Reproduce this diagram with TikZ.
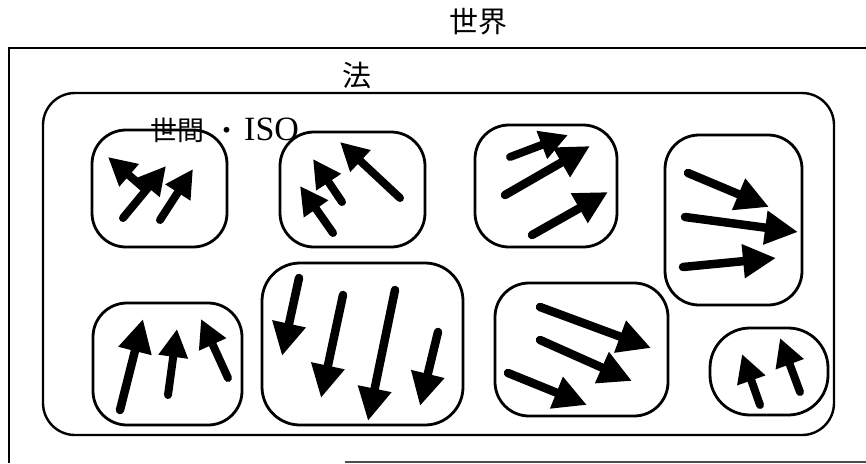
\documentclass[tikz,border=0pt]{standalone}
\usepackage{fontspec}
\setmainfont{Liberation Serif}
\newfontfamily\cjk{Noto Sans CJK JP}
\usetikzlibrary{arrows.meta}
\begin{document}
\begin{tikzpicture}[x=1pt,y=-1pt,
  frame/.style={draw, line width=2pt},
  lawbox/.style={draw, line width=2.4pt, rounded corners=32pt},
  grp/.style={draw, line width=2.8pt, rounded corners=#1},
  vec/.style={line width=8.5pt, line cap=round, -{Triangle[length=33pt 0 0,width=32pt 0 0]}},
  svec/.style={line width=8pt, line cap=round, -{Triangle[length=28pt 0 0,width=28pt 0 0]}},
  big/.style={font=\cjk\fontsize{29}{29}\selectfont}
]
\useasboundingbox (0,0) rectangle (866,463);
% outer frame
\draw[frame] (9,463) -- (9,48) -- (866,48);
\draw[line width=1.6pt, black!70] (345,462) -- (866,462);
\node[big] (world) at (478,22) {世界};
% law box
\draw[lawbox] (43,93) rectangle (834,435);
\node[big] (law) at (357,76) {法};
% groups
\draw[grp=34pt] (92,130) rectangle (227,247);
\draw[grp=34pt] (280,132) rectangle (425,247);
\draw[grp=34pt] (475,125) rectangle (617,247);
\draw[grp=34pt] (665,135) rectangle (802,305);
\draw[grp=34pt] (93,303) rectangle (242,425);
\draw[grp=38pt] (262,263) rectangle (463,425);
\draw[grp=34pt] (495,283) rectangle (668,416);
\draw[grp=40pt] (710,328) rectangle (828,415);
\node[anchor=base west, inner sep=0pt] (iso) at (150,140)
  {\cjk\fontsize{27}{27}\selectfont 世間\hspace{9pt}・\hspace{4pt}\fontsize{34}{34}\selectfont\rmfamily ISO};
% box 1
\draw[svec] (146,190) -- (108,157);
\draw[svec] (123,218) -- (166,166);
\draw[svec] (160,220) -- (193,169);
% box 2
\draw[svec] (400,198) -- (340,142);
\draw[svec] (342,202) -- (313,159);
\draw[svec] (333,233) -- (300,186);
% box 3
\draw[svec] (510,157) -- (568,135);
\draw[vec] (505,195) -- (590,146);
\draw[vec] (532,235) -- (608,192);
% box 4
\draw[vec] (688,173) -- (769,207);
\draw[vec] (685,217) -- (798,232);
\draw[vec] (683,267) -- (776,258);
% box 5
\draw[vec] (120,410) -- (143,319);
\draw[svec] (168,395) -- (177,329);
\draw[svec] (228,378) -- (201,319);
% box 6
\draw[vec] (299,278) -- (282,356);
\draw[vec] (343,295) -- (321,398);
\draw[vec] (395,290) -- (368,421);
\draw[vec] (438,332) -- (420,406);
% box 7
\draw[vec] (540,307) -- (651,348);
\draw[vec] (540,340) -- (632,381);
\draw[vec] (508,373) -- (587,405);
% box 8
\draw[svec] (760,405) -- (742,354);
\draw[svec] (800,392) -- (780,338);
\end{tikzpicture}
\end{document}
